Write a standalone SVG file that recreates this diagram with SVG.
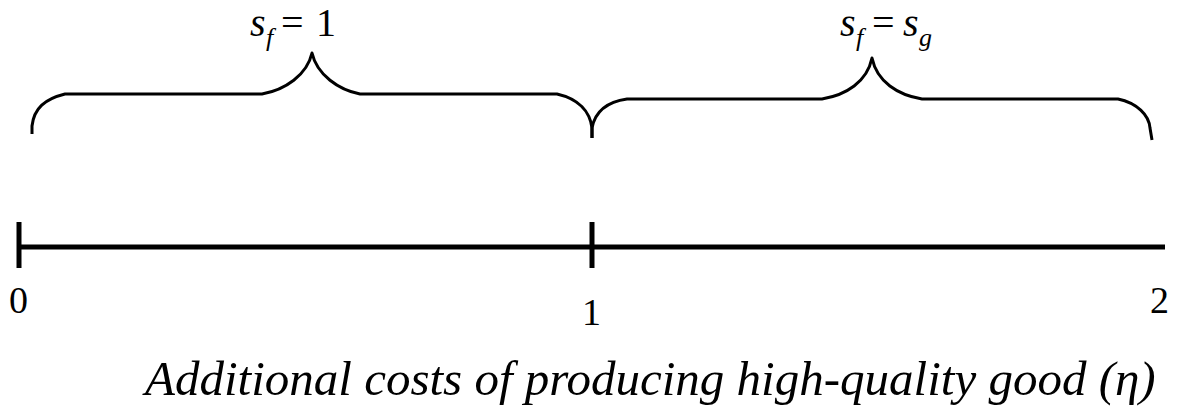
<svg xmlns="http://www.w3.org/2000/svg" width="1195" height="415" viewBox="0 0 1195 415">
<style>
  .t{font-family:"Liberation Serif","Times New Roman",serif;fill:#000}
  .i{font-style:italic}
  .brace{fill:none;stroke:#000;stroke-width:3;stroke-linejoin:round}
  .axis{stroke:#000;stroke-width:5;fill:none}
</style>
<rect width="1195" height="415" fill="#fff"/>
<g id="brace-left">
  <path class="brace" d="M32,134 L32,126 C34,108 45,99 65,94 L262,94 C285,90 307,75 312,53 C317,75 339,90 360,94 L557,94 C579,99 590,112 592,128 L592,138"/>
</g>
<g id="brace-right">
  <path class="brace" d="M592,138 L592,128 C595,112 606,102 627,99 L822,99 C846,95 867,82 872,58 C877,82 898,95 922,99 L1118,99 C1137,103 1149,115 1150,128 L1152,140"/>
</g>
<g id="label-left">
  <text class="t i" x="250" y="36" font-size="40">s</text>
  <text class="t i" x="266" y="46" font-size="26">f</text>
  <text class="t" x="281" y="36" font-size="40">=</text>
  <text class="t" x="316" y="36" font-size="40">1</text>
</g>
<g id="label-right">
  <text class="t i" x="840" y="36" font-size="40">s</text>
  <text class="t i" x="856" y="46" font-size="26">f</text>
  <text class="t" x="872" y="36" font-size="40">=</text>
  <text class="t i" x="903" y="36" font-size="40">s</text>
  <text class="t i" x="919" y="46" font-size="26">g</text>
</g>
<g id="axis">
  <line class="axis" x1="19" y1="247" x2="1165" y2="247"/>
  <line class="axis" x1="19" y1="222" x2="19" y2="268"/>
  <line class="axis" x1="592" y1="222" x2="592" y2="268"/>
</g>
<g id="tick-labels">
  <text class="t" x="9" y="313" font-size="38">0</text>
  <text class="t" x="582" y="325" font-size="38">1</text>
  <text class="t" x="1150" y="313" font-size="38">2</text>
</g>
<g id="axis-title">
  <text class="t i" x="145" y="395" font-size="49">Additional costs of producing high-quality good (η)</text>
</g>
</svg>
